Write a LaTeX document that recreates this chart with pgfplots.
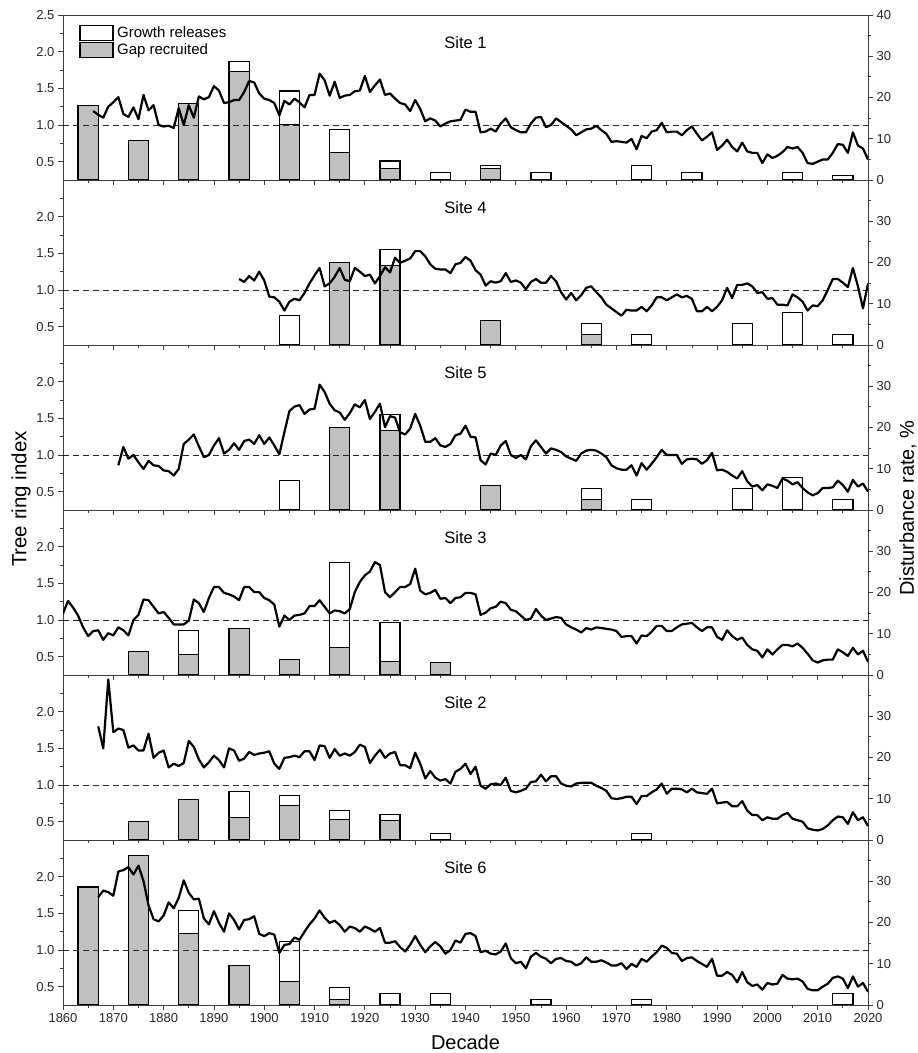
\documentclass[border=0pt]{standalone}
\usepackage{fontspec}
\setmainfont{Liberation Sans}
\usepackage{pgfplots}
\pgfplotsset{compat=1.18}
\definecolor{bargray}{RGB}{192,192,192}
\definecolor{axgray}{RGB}{60,60,60}
\tikzset{sitelab/.style={font=\fontsize{16.5}{20}\selectfont, yshift=-28pt}}
\pgfplotsset{
 base/.style={width=805pt,height=165pt,scale only axis,xmin=1860,xmax=2020,
   tick align=outside, major tick length=5pt, minor tick length=3pt,
   every tick/.style={axgray,line width=0.8pt},
   axis line style={axgray,line width=0.9pt},
   tick label style={font=\fontsize{13}{15}\selectfont, text=black!85},
   /pgf/number format/assume math mode=true,
   anchor=north west},
 lineax/.style={base, ymin=0.25, ymax=2.5, ytick={0.5,1,1.5,2}, minor ytick={0.75,1.25,1.75,2.25},
   xtick={1860,1870,...,2020}, minor xtick={1865,1875,...,2015},
   xtick pos=left, ytick pos=left, xticklabels={},
   yticklabel style={/pgf/number format/.cd,fixed,fixed zerofill,precision=1}},
 barax/.style={base, ymin=0,ymax=40, ytick={0,10,20,30}, minor ytick={5,15,25,35},
   axis x line=none, axis y line*=right, ytick pos=right},
 trl/.style={black, line width=2.2pt, line join=round, mark=none},
 refl/.style={black!85, line width=0.9pt, dash pattern=on 6pt off 4pt},
 boxleg/.style={legend image code/.code={\draw[##1,/tikz/.cd,line width=1.3pt] (0pt,-7.5pt) rectangle (33pt,7.5pt);}},
 wbar/.style={ybar, bar width=4, bar shift=0pt, draw=black, line width=1.2pt, fill=white, boxleg},
 gbar/.style={ybar, bar width=4, bar shift=0pt, draw=black, line width=1.2pt, fill=bargray, boxleg},
}
\begin{document}
\begin{tikzpicture}
\useasboundingbox (0,0) rectangle (918pt,-1053pt);
% ---------------- Site 1
\begin{axis}[barax, at={(63pt,-15pt)}, ytick={0,10,20,30,40},
  legend cell align=left,
  legend style={at={(0.02,0.94)}, anchor=north west, draw=none, fill=none,
    font=\fontsize{15}{18}\selectfont, row sep=0.5pt, column sep=1.5pt, inner sep=0pt}]
\addplot[wbar]
 coordinates {(1865,18.1)(1875,9.6)(1885,18.6)(1895,28.7)(1905,21.6)(1915,12.2)(1925,4.6)(1935,1.9)(1945,3.6)(1955,1.85)(1975,3.5)(1985,1.85)(2005,1.85)(2015,1.0)};
\addlegendentry{Growth releases}
\addplot[gbar]
 coordinates {(1865,18.1)(1875,9.6)(1885,18.6)(1895,26.4)(1905,13.4)(1915,6.7)(1925,2.7)(1945,2.7)};
\addlegendentry{Gap recruited}
\end{axis}
\begin{axis}[lineax, at={(63pt,-15pt)}, ytick={0.5,1,1.5,2,2.5}]
\addplot[refl] coordinates {(1860,1)(2020,1)};
\addplot[trl] coordinates {
(1866,1.19)(1867,1.14)(1868,1.10)(1869,1.25)(1870,1.31)(1871,1.38)(1872,1.15)(1873,1.11)(1874,1.24)(1875,1.08)
(1876,1.41)(1877,1.20)(1878,1.27)(1879,1.00)(1880,0.98)(1881,0.99)(1882,0.96)(1883,1.23)(1884,1.00)(1885,1.27)
(1886,1.10)(1887,1.39)(1888,1.35)(1889,1.38)(1890,1.53)(1891,1.47)(1892,1.30)(1893,1.31)(1894,1.34)(1895,1.34)
(1896,1.45)(1897,1.60)(1898,1.58)(1899,1.43)(1900,1.36)(1901,1.34)(1902,1.30)(1903,1.13)(1904,1.33)(1905,1.28)
(1906,1.36)(1907,1.31)(1908,1.24)(1909,1.41)(1910,1.41)(1911,1.70)(1912,1.61)(1913,1.40)(1914,1.59)(1915,1.37)
(1916,1.40)(1917,1.41)(1918,1.46)(1919,1.47)(1920,1.67)(1921,1.45)(1922,1.54)(1923,1.62)(1924,1.41)(1925,1.43)
(1926,1.36)(1927,1.30)(1928,1.28)(1929,1.19)(1930,1.34)(1931,1.22)(1932,1.05)(1933,1.09)(1934,1.06)(1935,0.98)
(1936,1.02)(1937,1.05)(1938,1.06)(1939,1.07)(1940,1.21)(1941,1.18)(1942,1.18)(1943,0.90)(1944,0.91)(1945,0.95)
(1946,0.91)(1947,1.02)(1948,1.09)(1949,0.97)(1950,0.93)(1951,0.90)(1952,0.90)(1953,1.02)(1954,1.10)(1955,1.11)
(1956,0.97)(1957,1.00)(1958,1.09)(1959,1.04)(1960,0.99)(1961,0.94)(1962,0.86)(1963,0.90)(1964,0.94)(1965,0.95)
(1966,0.99)(1967,0.93)(1968,0.88)(1969,0.77)(1970,0.78)(1971,0.77)(1972,0.76)(1973,0.81)(1974,0.67)(1975,0.85)
(1976,0.82)(1977,0.91)(1978,0.93)(1979,1.03)(1980,0.90)(1981,0.91)(1982,0.91)(1983,0.86)(1984,0.93)(1985,0.98)
(1986,0.88)(1987,0.79)(1988,0.84)(1989,0.90)(1990,0.66)(1991,0.72)(1992,0.80)(1993,0.70)(1994,0.64)(1995,0.76)
(1996,0.64)(1997,0.62)(1998,0.62)(1999,0.48)(2000,0.60)(2001,0.55)(2002,0.58)(2003,0.63)(2004,0.70)(2005,0.68)
(2006,0.70)(2007,0.62)(2008,0.48)(2009,0.47)(2010,0.50)(2011,0.53)(2012,0.53)(2013,0.62)(2014,0.74)(2015,0.73)
(2016,0.62)(2017,0.90)(2018,0.72)(2019,0.68)(2020,0.53)};
\node[sitelab] at (rel axis cs:0.5,1) {Site 1};
\end{axis}
% ---------------- Site 4
\begin{axis}[barax, at={(63pt,-180pt)}]
\addplot[wbar] coordinates {(1905,7.1)(1915,20)(1925,23.1)(1945,5.9)(1965,5.3)(1975,2.6)(1995,5.3)(2005,7.9)(2015,2.6)};
\addplot[gbar] coordinates {(1915,20)(1925,19.2)(1945,5.9)(1965,2.6)};
\end{axis}
\begin{axis}[lineax, at={(63pt,-180pt)}]
\addplot[refl] coordinates {(1860,1)(2020,1)};
\addplot[trl] coordinates {
(1895,1.15)(1896,1.11)(1897,1.19)(1898,1.13)(1899,1.25)(1900,1.13)(1901,0.91)(1902,0.90)(1903,0.84)(1904,0.72)
(1905,0.84)(1906,0.88)(1907,0.86)(1908,0.96)(1909,1.09)(1910,1.20)(1911,1.30)(1912,1.05)(1913,1.09)(1914,1.18)
(1915,1.30)(1916,1.14)(1917,1.12)(1918,1.30)(1919,1.25)(1920,1.19)(1921,1.21)(1922,1.09)(1923,1.19)(1924,1.31)
(1925,1.24)(1926,1.44)(1927,1.37)(1928,1.40)(1929,1.43)(1930,1.53)(1931,1.53)(1932,1.46)(1933,1.35)(1934,1.29)
(1935,1.28)(1936,1.28)(1937,1.23)(1938,1.35)(1939,1.37)(1940,1.45)(1941,1.40)(1942,1.27)(1943,1.21)(1944,1.06)
(1945,1.12)(1946,1.10)(1947,1.12)(1948,1.23)(1949,1.11)(1950,1.13)(1951,1.10)(1952,1.01)(1953,1.11)(1954,1.15)
(1955,1.10)(1956,1.10)(1957,1.19)(1958,1.12)(1959,0.97)(1960,0.87)(1961,0.96)(1962,0.86)(1963,0.93)(1964,1.03)
(1965,1.05)(1966,0.97)(1967,0.90)(1968,0.80)(1969,0.75)(1970,0.70)(1971,0.65)(1972,0.73)(1973,0.72)(1974,0.72)
(1975,0.77)(1976,0.71)(1977,0.79)(1978,0.90)(1979,0.90)(1980,0.86)(1981,0.90)(1982,0.94)(1983,0.90)(1984,0.92)
(1985,0.88)(1986,0.71)(1987,0.71)(1988,0.77)(1989,0.71)(1990,0.77)(1991,0.86)(1992,1.03)(1993,0.89)(1994,1.07)
(1995,1.07)(1996,1.09)(1997,1.05)(1998,0.96)(1999,0.97)(2000,0.88)(2001,0.89)(2002,0.80)(2003,0.80)(2004,0.79)
(2005,0.94)(2006,0.90)(2007,0.84)(2008,0.72)(2009,0.79)(2010,0.78)(2011,0.86)(2012,1.00)(2013,1.15)(2014,1.15)
(2015,1.10)(2016,1.04)(2017,1.30)(2018,1.05)(2019,0.75)(2020,1.09)};
\node[sitelab] at (rel axis cs:0.5,1) {Site 4};
\end{axis}
% ---------------- Site 5
\begin{axis}[barax, at={(63pt,-345pt)}]
\addplot[wbar] coordinates {(1905,7.1)(1915,20)(1925,23.1)(1945,5.9)(1965,5.3)(1975,2.6)(1995,5.3)(2005,7.9)(2015,2.6)};
\addplot[gbar] coordinates {(1915,20)(1925,19.2)(1945,5.9)(1965,2.6)};
\end{axis}
\begin{axis}[lineax, at={(63pt,-345pt)}]
\addplot[refl] coordinates {(1860,1)(2020,1)};
\addplot[trl] coordinates {
(1871,0.86)(1872,1.11)(1873,0.95)(1874,1.00)(1875,0.90)(1876,0.81)(1877,0.92)(1878,0.86)(1879,0.85)(1880,0.79)
(1881,0.78)(1882,0.72)(1883,0.81)(1884,1.15)(1885,1.21)(1886,1.28)(1887,1.12)(1888,0.97)(1889,1.00)(1890,1.13)
(1891,1.23)(1892,1.02)(1893,1.07)(1894,1.16)(1895,1.07)(1896,1.19)(1897,1.21)(1898,1.15)(1899,1.27)(1900,1.15)
(1901,1.24)(1902,1.13)(1903,1.01)(1904,1.31)(1905,1.60)(1906,1.66)(1907,1.68)(1908,1.56)(1909,1.62)(1910,1.63)
(1911,1.96)(1912,1.86)(1913,1.70)(1914,1.61)(1915,1.58)(1916,1.48)(1917,1.57)(1918,1.69)(1919,1.65)(1920,1.75)
(1921,1.49)(1922,1.59)(1923,1.70)(1924,1.38)(1925,1.53)(1926,1.51)(1927,1.31)(1928,1.28)(1929,1.36)(1930,1.56)
(1931,1.40)(1932,1.18)(1933,1.18)(1934,1.23)(1935,1.13)(1936,1.11)(1937,1.15)(1938,1.27)(1939,1.29)(1940,1.40)
(1941,1.25)(1942,1.24)(1943,0.93)(1944,0.87)(1945,1.02)(1946,1.00)(1947,1.13)(1948,1.19)(1949,1.00)(1950,0.96)
(1951,1.00)(1952,0.94)(1953,1.12)(1954,1.20)(1955,1.11)(1956,1.02)(1957,1.09)(1958,1.07)(1959,1.04)(1960,0.98)
(1961,0.95)(1962,0.92)(1963,1.02)(1964,1.06)(1965,1.07)(1966,1.06)(1967,1.02)(1968,0.97)(1969,0.86)(1970,0.82)
(1971,0.80)(1972,0.80)(1973,0.86)(1974,0.72)(1975,0.89)(1976,0.80)(1977,0.88)(1978,0.97)(1979,1.07)(1980,1.00)
(1981,1.00)(1982,1.00)(1983,0.88)(1984,0.94)(1985,0.95)(1986,0.94)(1987,0.88)(1988,0.93)(1989,1.03)(1990,0.79)
(1991,0.80)(1992,0.77)(1993,0.72)(1994,0.68)(1995,0.78)(1996,0.64)(1997,0.57)(1998,0.59)(1999,0.52)(2000,0.60)
(2001,0.58)(2002,0.55)(2003,0.68)(2004,0.65)(2005,0.60)(2006,0.63)(2007,0.55)(2008,0.49)(2009,0.45)(2010,0.48)
(2011,0.55)(2012,0.55)(2013,0.56)(2014,0.65)(2015,0.59)(2016,0.50)(2017,0.66)(2018,0.57)(2019,0.61)(2020,0.50)};
\node[sitelab] at (rel axis cs:0.5,1) {Site 5};
\end{axis}
% ---------------- Site 3
\begin{axis}[barax, at={(63pt,-510pt)}]
\addplot[wbar] coordinates {(1875,5.7)(1885,10.7)(1895,11.2)(1905,3.7)(1915,27.3)(1925,12.8)(1935,3.1)};
\addplot[gbar] coordinates {(1875,5.7)(1885,5.0)(1895,11.2)(1905,3.7)(1915,6.6)(1925,3.2)(1935,3.1)};
\end{axis}
\begin{axis}[lineax, at={(63pt,-510pt)}]
\addplot[refl] coordinates {(1860,1)(2020,1)};
\addplot[trl] coordinates {
(1860,1.09)(1861,1.26)(1862,1.17)(1863,1.06)(1864,0.90)(1865,0.78)(1866,0.85)(1867,0.86)(1868,0.73)(1869,0.82)
(1870,0.79)(1871,0.90)(1872,0.86)(1873,0.79)(1874,1.00)(1875,1.07)(1876,1.28)(1877,1.27)(1878,1.18)(1879,1.09)
(1880,1.11)(1881,1.03)(1882,0.94)(1883,0.94)(1884,0.94)(1885,0.99)(1886,1.28)(1887,1.23)(1888,1.11)(1889,1.30)
(1890,1.45)(1891,1.45)(1892,1.37)(1893,1.35)(1894,1.32)(1895,1.27)(1896,1.45)(1897,1.45)(1898,1.38)(1899,1.38)
(1900,1.30)(1901,1.27)(1902,1.21)(1903,0.91)(1904,1.06)(1905,1.00)(1906,1.06)(1907,1.07)(1908,1.09)(1909,1.19)
(1910,1.19)(1911,1.27)(1912,1.18)(1913,1.09)(1914,1.13)(1915,1.12)(1916,1.09)(1917,1.15)(1918,1.38)(1919,1.52)
(1920,1.61)(1921,1.66)(1922,1.79)(1923,1.75)(1924,1.38)(1925,1.31)(1926,1.38)(1927,1.45)(1928,1.45)(1929,1.49)
(1930,1.70)(1931,1.40)(1932,1.35)(1933,1.37)(1934,1.41)(1935,1.29)(1936,1.30)(1937,1.23)(1938,1.30)(1939,1.31)
(1940,1.37)(1941,1.37)(1942,1.35)(1943,1.07)(1944,1.10)(1945,1.16)(1946,1.18)(1947,1.25)(1948,1.23)(1949,1.14)
(1950,1.12)(1951,1.06)(1952,1.00)(1953,1.02)(1954,1.15)(1955,1.06)(1956,1.00)(1957,1.02)(1958,1.04)(1959,1.03)
(1960,0.94)(1961,0.90)(1962,0.87)(1963,0.83)(1964,0.89)(1965,0.87)(1966,0.90)(1967,0.89)(1968,0.88)(1969,0.87)
(1970,0.85)(1971,0.77)(1972,0.78)(1973,0.78)(1974,0.68)(1975,0.79)(1976,0.78)(1977,0.84)(1978,0.92)(1979,0.92)
(1980,0.85)(1981,0.85)(1982,0.90)(1983,0.94)(1984,0.95)(1985,0.96)(1986,0.90)(1987,0.85)(1988,0.90)(1989,0.90)
(1990,0.77)(1991,0.73)(1992,0.86)(1993,0.78)(1994,0.73)(1995,0.76)(1996,0.66)(1997,0.60)(1998,0.58)(1999,0.49)
(2000,0.60)(2001,0.53)(2002,0.60)(2003,0.66)(2004,0.66)(2005,0.64)(2006,0.68)(2007,0.62)(2008,0.54)(2009,0.45)
(2010,0.42)(2011,0.45)(2012,0.46)(2013,0.46)(2014,0.60)(2015,0.56)(2016,0.51)(2017,0.62)(2018,0.53)(2019,0.58)
(2020,0.43)};
\node[sitelab] at (rel axis cs:0.5,1) {Site 3};
\end{axis}
% ---------------- Site 2
\begin{axis}[barax, at={(63pt,-675pt)}]
\addplot[wbar] coordinates {(1875,4.5)(1885,9.8)(1895,11.8)(1905,10.8)(1915,7.1)(1925,6.2)(1935,1.6)(1975,1.5)};
\addplot[gbar] coordinates {(1875,4.5)(1885,9.8)(1895,5.4)(1905,8.3)(1915,5.0)(1925,4.7)};
\end{axis}
\begin{axis}[lineax, at={(63pt,-675pt)}]
\addplot[refl] coordinates {(1860,1)(2020,1)};
\addplot[trl] coordinates {
(1867,1.80)(1868,1.50)(1869,2.44)(1870,1.72)(1871,1.77)(1872,1.75)(1873,1.51)(1874,1.54)(1875,1.47)(1876,1.47)
(1877,1.70)(1878,1.37)(1879,1.44)(1880,1.47)(1881,1.24)(1882,1.29)(1883,1.26)(1884,1.30)(1885,1.60)(1886,1.52)
(1887,1.35)(1888,1.24)(1889,1.31)(1890,1.40)(1891,1.34)(1892,1.24)(1893,1.50)(1894,1.47)(1895,1.33)(1896,1.36)
(1897,1.45)(1898,1.41)(1899,1.43)(1900,1.44)(1901,1.46)(1902,1.29)(1903,1.22)(1904,1.37)(1905,1.38)(1906,1.40)
(1907,1.38)(1908,1.46)(1909,1.46)(1910,1.34)(1911,1.54)(1912,1.53)(1913,1.37)(1914,1.49)(1915,1.40)(1916,1.43)
(1917,1.40)(1918,1.45)(1919,1.55)(1920,1.52)(1921,1.30)(1922,1.40)(1923,1.48)(1924,1.37)(1925,1.43)(1926,1.45)
(1927,1.27)(1928,1.27)(1929,1.23)(1930,1.44)(1931,1.29)(1932,1.09)(1933,1.19)(1934,1.10)(1935,1.06)(1936,1.08)
(1937,1.02)(1938,1.18)(1939,1.22)(1940,1.29)(1941,1.15)(1942,1.25)(1943,0.99)(1944,0.95)(1945,1.01)(1946,1.02)
(1947,1.00)(1948,1.10)(1949,0.92)(1950,0.90)(1951,0.92)(1952,0.95)(1953,1.04)(1954,1.05)(1955,1.14)(1956,1.05)
(1957,1.12)(1958,1.12)(1959,1.02)(1960,0.99)(1961,0.98)(1962,1.02)(1963,1.03)(1964,1.03)(1965,1.03)(1966,0.99)
(1967,0.96)(1968,0.92)(1969,0.82)(1970,0.81)(1971,0.82)(1972,0.84)(1973,0.84)(1974,0.74)(1975,0.85)(1976,0.85)
(1977,0.90)(1978,0.94)(1979,1.02)(1980,0.88)(1981,0.95)(1982,0.95)(1983,0.94)(1984,0.90)(1985,0.95)(1986,0.90)
(1987,0.89)(1988,0.88)(1989,0.95)(1990,0.75)(1991,0.76)(1992,0.77)(1993,0.71)(1994,0.71)(1995,0.78)(1996,0.65)
(1997,0.59)(1998,0.59)(1999,0.52)(2000,0.56)(2001,0.54)(2002,0.54)(2003,0.59)(2004,0.62)(2005,0.54)(2006,0.52)
(2007,0.50)(2008,0.41)(2009,0.39)(2010,0.38)(2011,0.40)(2012,0.45)(2013,0.52)(2014,0.57)(2015,0.56)(2016,0.47)
(2017,0.63)(2018,0.52)(2019,0.56)(2020,0.44)};
\node[sitelab] at (rel axis cs:0.5,1) {Site 2};
\end{axis}
% ---------------- Site 6
\begin{axis}[barax, at={(63pt,-840pt)}]
\addplot[wbar] coordinates {(1865,28.6)(1875,36.2)(1885,23.0)(1895,9.5)(1905,15.4)(1915,4.2)(1925,2.8)(1935,2.8)(1955,1.4)(1975,1.4)(2015,2.8)};
\addplot[gbar] coordinates {(1865,28.6)(1875,36.2)(1885,17.3)(1895,9.5)(1905,5.7)(1915,1.4)};
\end{axis}
\begin{axis}[lineax, at={(63pt,-840pt)}, xticklabels={1860,1870,1880,1890,1900,1910,1920,1930,1940,1950,1960,1970,1980,1990,2000,2010,2020}]
\addplot[refl] coordinates {(1860,1)(2020,1)};
\addplot[trl] coordinates {
(1867,1.72)(1868,1.81)(1869,1.79)(1870,1.74)(1871,2.07)(1872,2.09)(1873,2.13)(1874,2.03)(1875,2.15)(1876,1.94)
(1877,1.61)(1878,1.42)(1879,1.39)(1880,1.47)(1881,1.65)(1882,1.57)(1883,1.71)(1884,1.95)(1885,1.78)(1886,1.69)
(1887,1.70)(1888,1.43)(1889,1.35)(1890,1.53)(1891,1.37)(1892,1.25)(1893,1.50)(1894,1.41)(1895,1.28)(1896,1.41)
(1897,1.42)(1898,1.46)(1899,1.22)(1900,1.19)(1901,1.23)(1902,1.21)(1903,0.96)(1904,1.07)(1905,1.08)(1906,1.17)
(1907,1.14)(1908,1.25)(1909,1.35)(1910,1.43)(1911,1.54)(1912,1.44)(1913,1.37)(1914,1.40)(1915,1.34)(1916,1.25)
(1917,1.32)(1918,1.30)(1919,1.25)(1920,1.32)(1921,1.29)(1922,1.25)(1923,1.30)(1924,1.10)(1925,1.10)(1926,1.12)
(1927,1.04)(1928,0.98)(1929,1.07)(1930,1.19)(1931,1.07)(1932,0.97)(1933,1.05)(1934,1.11)(1935,1.05)(1936,0.95)
(1937,1.00)(1938,1.13)(1939,1.10)(1940,1.22)(1941,1.23)(1942,1.19)(1943,0.97)(1944,0.99)(1945,0.95)(1946,0.94)
(1947,0.98)(1948,1.09)(1949,0.89)(1950,0.82)(1951,0.84)(1952,0.75)(1953,0.91)(1954,0.96)(1955,0.91)(1956,0.88)
(1957,0.82)(1958,0.88)(1959,0.89)(1960,0.85)(1961,0.84)(1962,0.79)(1963,0.82)(1964,0.90)(1965,0.84)(1966,0.84)
(1967,0.86)(1968,0.83)(1969,0.79)(1970,0.79)(1971,0.82)(1972,0.74)(1973,0.81)(1974,0.77)(1975,0.88)(1976,0.84)
(1977,0.91)(1978,0.97)(1979,1.06)(1980,1.03)(1981,0.96)(1982,0.95)(1983,0.85)(1984,0.89)(1985,0.90)(1986,0.85)
(1987,0.81)(1988,0.77)(1989,0.88)(1990,0.65)(1991,0.65)(1992,0.70)(1993,0.66)(1994,0.56)(1995,0.70)(1996,0.56)
(1997,0.51)(1998,0.53)(1999,0.46)(2000,0.55)(2001,0.53)(2002,0.54)(2003,0.66)(2004,0.61)(2005,0.60)(2006,0.61)
(2007,0.57)(2008,0.47)(2009,0.45)(2010,0.45)(2011,0.50)(2012,0.54)(2013,0.62)(2014,0.64)(2015,0.61)(2016,0.48)
(2017,0.64)(2018,0.50)(2019,0.55)(2020,0.43)};
\node[sitelab] at (rel axis cs:0.5,1) {Site 6};
\end{axis}
% ---------------- axis titles
\node[rotate=90, font=\fontsize{20.5}{24}\selectfont] at (21pt,-499pt) {Tree ring index};
\node[rotate=90, font=\fontsize{20}{24}\selectfont] at (908pt,-508pt) {Disturbance rate, \%};
\node[anchor=base, font=\fontsize{20}{24}\selectfont] at (465.5pt,-1049pt) {Decade};
\end{tikzpicture}
\end{document}
